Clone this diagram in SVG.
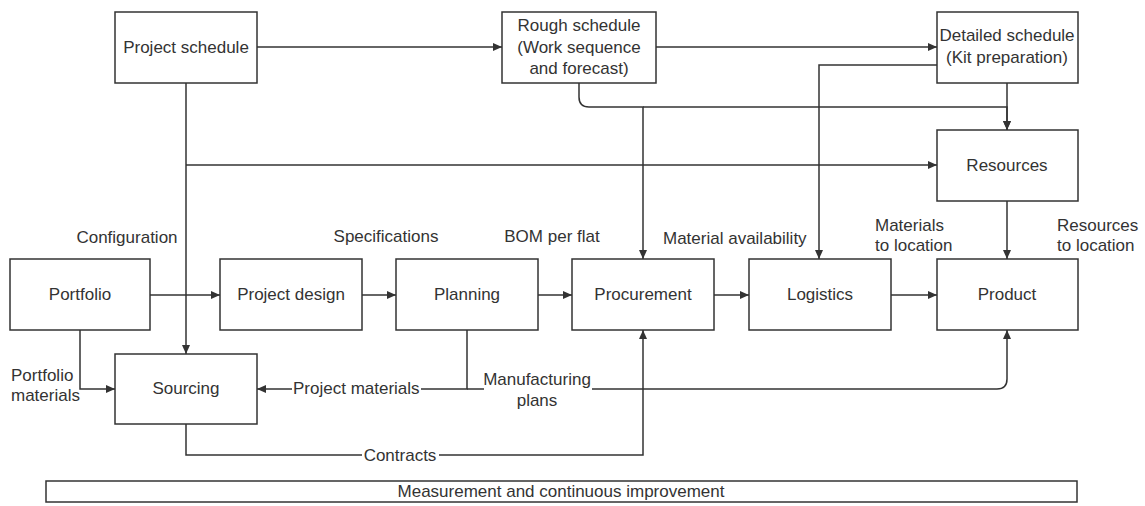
<svg xmlns="http://www.w3.org/2000/svg" width="1145" height="506" viewBox="0 0 1145 506">
<style>
.box{fill:#fff;stroke:#333;stroke-width:1.5}
.t{font-family:"Liberation Sans",Arial,sans-serif;font-size:17px;fill:#333;text-anchor:middle}
.l{font-family:"Liberation Sans",Arial,sans-serif;font-size:17px;fill:#333}
.e{fill:none;stroke:#333;stroke-width:1.5}
.a{marker-end:url(#arr)}
.bg{fill:#fff;stroke:none}
</style>
<defs>
<marker id="arr" markerUnits="userSpaceOnUse" markerWidth="9" markerHeight="8" refX="9" refY="4" orient="auto">
<path d="M0,0 L9,4 L0,8 z" fill="#333"/>
</marker>
</defs>
<rect width="1145" height="506" fill="#fff"/>
<g id="connectors">
<path class="e a" d="M257,47 H502"/>
<path class="e a" d="M656,47 H937"/>
<path class="e a" d="M186,83 V354"/>
<path class="e a" d="M186,165 H937"/>
<path class="e a" d="M579,83 V97 Q579,107 589,107 H643 V259"/>
<path class="e a" d="M643,107 H1007 V130"/>
<path class="e a" d="M1007,83 V130"/>
<path class="e a" d="M937,65 H819 V259"/>
<path class="e a" d="M1007,201 V259"/>
<path class="e a" d="M150,295 H220"/>
<path class="e a" d="M362,295 H396"/>
<path class="e a" d="M538,295 H572"/>
<path class="e a" d="M714,295 H749"/>
<path class="e a" d="M891,295 H937"/>
<path class="e a" d="M80,330 V389 H115"/>
<path class="e a" d="M467,330 V389 H257"/>
<path class="e a" d="M467,389 H997 Q1007,389 1007,379 V330"/>
<path class="e a" d="M186,424 V455 H643 V330"/>
<rect class="bg" x="292" y="379" width="129" height="19"/>
<text class="l" x="293" y="394">Project materials</text>
<rect class="bg" x="484" y="369" width="108" height="42"/>
<text class="t" x="537" y="385">Manufacturing</text>
<text class="t" x="537" y="406">plans</text>
<rect class="bg" x="362" y="446" width="77" height="18"/>
<text class="t" x="400" y="461">Contracts</text>
<text class="t" x="127" y="243">Configuration</text>
<text class="t" x="386" y="242">Specifications</text>
<text class="t" x="552" y="242">BOM per flat</text>
<text class="l" x="663" y="244">Material availability</text>
<text class="l" x="875" y="231">Materials</text>
<text class="l" x="875" y="251">to location</text>
<text class="l" x="1057" y="231">Resources</text>
<text class="l" x="1057" y="251">to location</text>
<text class="l" x="11" y="381">Portfolio</text>
<text class="l" x="11" y="401">materials</text>
</g>
<g id="project-schedule"><rect class="box" x="115" y="12" width="142" height="71"/><text class="t" x="186" y="53">Project schedule</text></g>
<g id="rough-schedule"><rect class="box" x="502" y="12" width="154" height="71"/><text class="t" x="579" y="31">Rough schedule</text><text class="t" x="579" y="53">(Work sequence</text><text class="t" x="579" y="74">and forecast)</text></g>
<g id="detailed-schedule"><rect class="box" x="937" y="12" width="141" height="71"/><text class="t" x="1007" y="41">Detailed schedule</text><text class="t" x="1007" y="63">(Kit preparation)</text></g>
<g id="resources"><rect class="box" x="937" y="130" width="141" height="71"/><text class="t" x="1007" y="171">Resources</text></g>
<g id="portfolio"><rect class="box" x="10" y="259" width="140" height="71"/><text class="t" x="80" y="300">Portfolio</text></g>
<g id="project-design"><rect class="box" x="220" y="259" width="142" height="71"/><text class="t" x="291" y="300">Project design</text></g>
<g id="planning"><rect class="box" x="396" y="259" width="142" height="71"/><text class="t" x="467" y="300">Planning</text></g>
<g id="procurement"><rect class="box" x="572" y="259" width="142" height="71"/><text class="t" x="643" y="300">Procurement</text></g>
<g id="logistics"><rect class="box" x="749" y="259" width="142" height="71"/><text class="t" x="820" y="300">Logistics</text></g>
<g id="product"><rect class="box" x="937" y="259" width="141" height="71"/><text class="t" x="1007" y="300">Product</text></g>
<g id="sourcing"><rect class="box" x="115" y="354" width="142" height="70"/><text class="t" x="186" y="394">Sourcing</text></g>
<g id="measurement"><rect class="box" x="46" y="481" width="1031" height="21"/><text class="t" x="561" y="497">Measurement and continuous improvement</text></g>
</svg>
